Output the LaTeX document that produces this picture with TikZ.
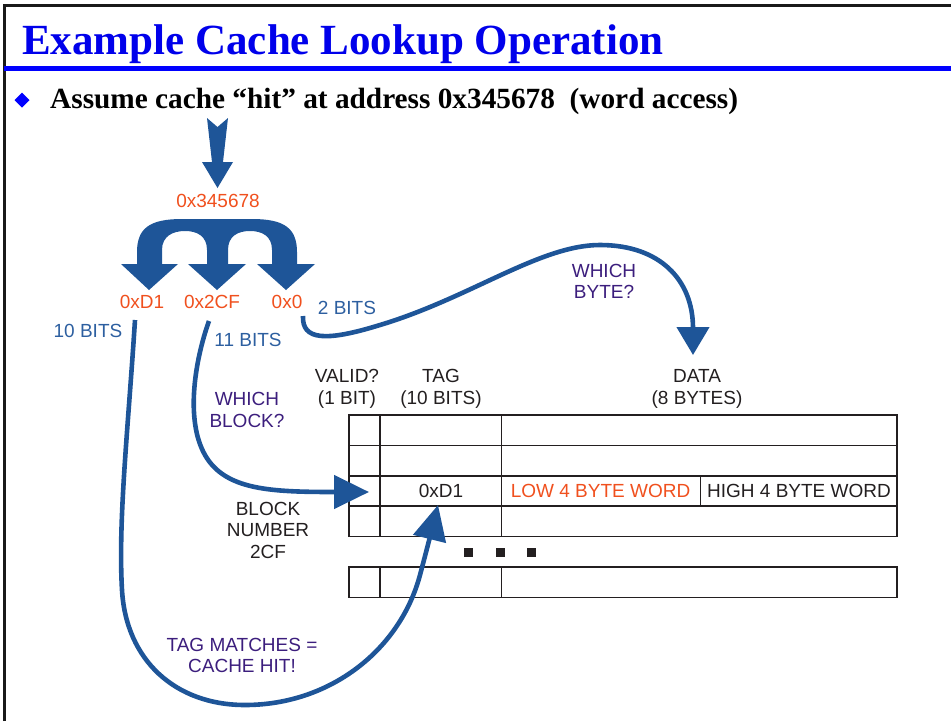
\documentclass[tikz,border=0pt]{standalone}
\usepackage{fontspec}
\setmainfont{Liberation Serif}
\setsansfont{Liberation Sans}
\usetikzlibrary{arrows.meta}
\definecolor{titleB}{RGB}{0,0,235}
\definecolor{ruleB}{RGB}{0,0,255}
\definecolor{bulletB}{RGB}{0,0,255}
\definecolor{arrowB}{RGB}{30,85,152}
\definecolor{orangeT}{RGB}{240,80,30}
\definecolor{blueT}{RGB}{45,95,160}
\definecolor{purpleT}{RGB}{60,30,125}
\definecolor{darkT}{RGB}{35,31,32}
\begin{document}
\begin{tikzpicture}[x=1pt,y=-1pt,
  lbl/.style={font=\sffamily\fontsize{19}{21.5}\selectfont, align=center, inner sep=0pt},
  conn/.style={draw=arrowB, line width=4.6pt, line cap=butt},
  tipA/.style={-{Triangle[length=28pt,width=32pt]}},
  tipB/.style={-{Triangle[length=35pt,width=33pt]}},
  grid/.style={draw=darkT, line width=1.6pt},
  dot/.style={fill=darkT}]
\useasboundingbox (0,0) rectangle (951,721);
% frame
\draw[line width=3pt, black!90] (4,721) -- (4,5) -- (951,5);
\draw[line width=5pt, ruleB] (4,68.5) -- (951,68.5);
% title
\node[anchor=base west, inner sep=0pt, text=titleB, font=\bfseries\fontsize{43}{43}\selectfont] (title) at (22,54) {Example Cache Lookup Operation};
% bullet
\fill[bulletB] (22,92.5) -- (29.5,100) -- (22,107.5) -- (14.5,100) -- cycle;
\node[anchor=base west, inner sep=0pt, font=\bfseries\fontsize{29.3}{30}\selectfont] (bullet) at (50,108) {Assume cache “hit” at address 0x345678\ \ (word access)};
% big down arrow
\fill[arrowB] (207,118) -- (217.5,127) -- (228,118) -- (223,162) -- (233,162) -- (217.5,188) -- (202,162) -- (212,162) -- cycle;
\node[lbl, text=orangeT] (addr) at (218,201) {0x345678};
% trident split arrow
\fill[arrowB] (137,264) -- (137,252) .. controls (137,228) and (150,219) .. (182,219) -- (252,219) .. controls (284,219) and (297,228) .. (297,252) -- (297,264) -- (315,264) -- (286,290) -- (257,264) -- (272,264) -- (272,250) .. controls (272,236) and (262,231) .. (250,231) .. controls (238,231) and (228,236) .. (228,250) -- (228,264) -- (246,264) -- (217,290) -- (188,264) -- (207,264) -- (207,250) .. controls (207,236) and (197,231) .. (185,231) .. controls (173,231) and (162,236) .. (162,250) -- (162,264) -- (178,264) -- (149,290) -- (121,264) -- cycle;
% field labels
\node[lbl, text=orangeT] (tagf) at (142,302) {0xD1};
\node[lbl, text=orangeT] (idxf) at (212,302) {0x2CF};
\node[lbl, text=orangeT] (offf) at (287,302) {0x0};
\node[lbl, text=blueT] (b10) at (88,331) {10 BITS};
\node[lbl, text=blueT] (b11) at (248,340) {11 BITS};
\node[lbl, text=blueT] (b2) at (347,308) {2 BITS};
\node[lbl, text=purpleT] (wbyte) at (604,281.5) {WHICH\\BYTE?};
\node[lbl, text=purpleT] (wblock) at (247,410) {WHICH\\BLOCK?};
\node[lbl, text=darkT] (hvalid) at (347,389) {VALID?\\(1 BIT)};
\node[lbl, text=darkT] (htag) at (441,389) {TAG\\(10 BITS)};
\node[lbl, text=darkT] (hdata) at (697,389) {DATA\\(8 BYTES)};
\node[lbl, text=darkT] (bnum) at (268,530) {BLOCK\\NUMBER\\2CF};
\node[lbl, text=purpleT] (hit) at (242,655.5) {TAG MATCHES =\\CACHE HIT!};
% table
\draw[grid] (349,415) rectangle (897,536.5);
\foreach \yy in {445.5,476,506} \draw[grid] (349,\yy) -- (897,\yy);
\draw[grid] (380,415) -- (380,536.5);
\draw[grid] (501.5,415) -- (501.5,536.5);
\draw[grid] (700.5,476) -- (700.5,506);
\draw[grid] (349,567) rectangle (897,597.5);
\draw[grid] (380,567) -- (380,597.5);
\draw[grid] (501.5,567) -- (501.5,597.5);
\node[lbl, text=darkT] (tagcell) at (441,491) {0xD1};
\node[lbl, text=orangeT] (lowcell) at (600.5,491) {LOW 4 BYTE WORD};
\node[lbl, text=darkT] (highcell) at (799,491) {HIGH 4 BYTE WORD};
\fill[dot] (463.5,547.5) rectangle (472.5,556.5);
\fill[dot] (495.5,547.5) rectangle (504.5,556.5);
\fill[dot] (526.5,547.5) rectangle (535.5,556.5);
% connector end points
\coordinate (sOff) at (303,316);
\coordinate (eByte) at (693,355);
\coordinate (sIdx) at (209,321);
\coordinate (eRow) at (369,492);
\coordinate (sTag) at (135,320);
\coordinate (eTag) at (438,505);
% connectors
\draw[conn, tipA] (sOff) .. controls (302,340) and (325,342) .. (380,325) .. controls (470,298) and (540,245) .. (600,245) .. controls (660,245) and (693,280) .. (eByte);
\draw[conn, tipB] (sIdx) .. controls (195,360) and (185,420) .. (205,455) .. controls (225,490) and (270,492) .. (eRow);
\draw[conn, tipB] (sTag) .. controls (128,430) and (118,520) .. (122,590) .. controls (126,660) and (175,705) .. (245,705) .. controls (330,705) and (400,650) .. (420,575) .. controls (428,545) and (433,525) .. (eTag);
\end{tikzpicture}
\end{document}
